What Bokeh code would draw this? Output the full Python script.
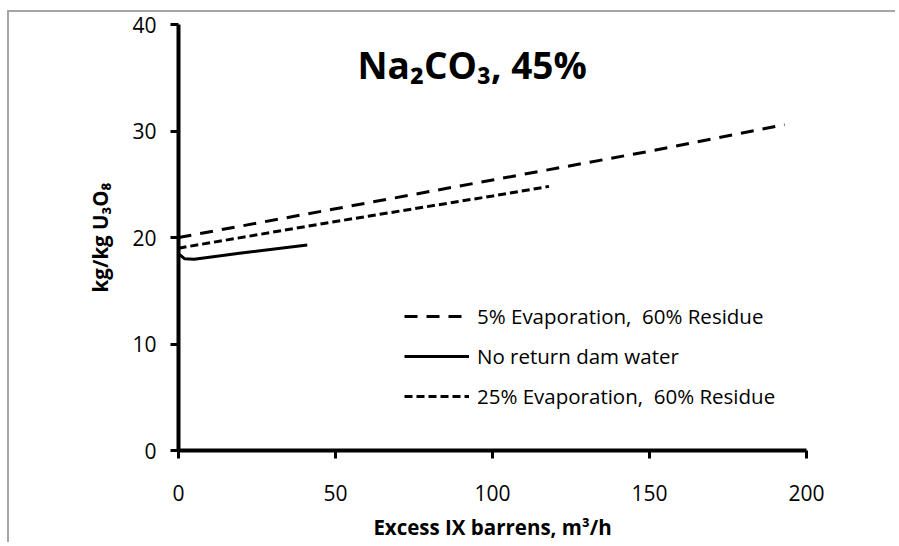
from bokeh.plotting import figure
from bokeh.models import Range1d, FixedTicker, Label, Legend, LegendItem
from bokeh.embed import file_html
from bokeh.resources import INLINE

# --- data ---
x_evap5 = [0, 50, 100, 150, 193]
y_evap5 = [20.0, 22.7, 25.4, 28.1, 30.6]

x_noreturn = [0.3, 2, 5, 20, 41]
y_noreturn = [18.4, 18.0, 17.95, 18.55, 19.3]

x_evap25 = [0, 50, 100, 118]
y_evap25 = [19.0, 21.5, 23.9, 24.8]

x_ticks = [0, 50, 100, 150, 200]
y_ticks = [0, 10, 20, 30, 40]

labels = ["5% Evaporation,  60% Residue", "No return dam water", "25% Evaporation,  60% Residue"]
title_text = "Na\u2082CO\u2083, 45%"
x_title = "Excess IX barrens, m\u00b3/h"
y_title = "kg/kg U\u2083O\u2088"

FONT = "Open Sans"

p = figure(width=888, height=532,
           min_border_left=169, min_border_right=91,
           min_border_top=12, min_border_bottom=94,
           x_range=Range1d(0, 200), y_range=Range1d(0, 40),
           output_backend="svg", toolbar_location=None)
# grey chart-area border (top and left edges visible in the reference)
p.styles = {"margin-left": "9px", "margin-top": "12px",
            "box-shadow": "-2px -2px 0px 0px #a6a6a6"}

p.outline_line_color = None
p.xgrid.grid_line_color = None
p.ygrid.grid_line_color = None
p.background_fill_color = "white"
p.border_fill_color = "white"

p.xaxis.ticker = FixedTicker(ticks=x_ticks)
p.yaxis.ticker = FixedTicker(ticks=y_ticks)
for ax in (p.xaxis[0], p.yaxis[0]):
    ax.axis_line_width = 4
    ax.axis_line_color = "black"
    ax.major_tick_line_width = 3
    ax.major_tick_line_color = "black"
    ax.major_tick_out = 8
    ax.major_tick_in = 0
    ax.minor_tick_line_color = None
    ax.major_label_text_font = FONT
    ax.major_label_text_font_size = "21px"
    ax.major_label_text_color = "black"
    ax.axis_label_text_font = FONT
    ax.axis_label_text_font_style = "bold"
    ax.axis_label_text_font_size = "20.5px"
    ax.axis_label_text_color = "black"

p.xaxis.major_label_standoff = 26
p.yaxis.major_label_standoff = 14
p.xaxis.axis_label = x_title
p.yaxis.axis_label = y_title
p.xaxis.axis_label_standoff = 9
p.yaxis.axis_label_standoff = 15

r1 = p.line(x_evap5, y_evap5, line_color="black", line_width=3, line_dash="13 9")
r2 = p.line(x_noreturn, y_noreturn, line_color="black", line_width=3)
r3 = p.line(x_evap25, y_evap25, line_color="black", line_width=3, line_dash="8 4")

legend = Legend(items=[LegendItem(label=labels[0], renderers=[r1]),
                       LegendItem(label=labels[1], renderers=[r2]),
                       LegendItem(label=labels[2], renderers=[r3])],
                location=(226, 40), glyph_width=65, glyph_height=28, label_height=28,
                spacing=12, padding=0, margin=0, label_standoff=8,
                label_text_font=FONT, label_text_font_size="20.5px", label_text_color="black",
                border_line_color=None, background_fill_alpha=0)
p.add_layout(legend, "center")

title = Label(x=57, y=36.2, text=title_text, text_font=FONT, text_font_style="bold",
              text_font_size="37px", text_color="black", text_baseline="alphabetic")
p.add_layout(title)

open("out.html", "w").write(file_html(p, INLINE))
